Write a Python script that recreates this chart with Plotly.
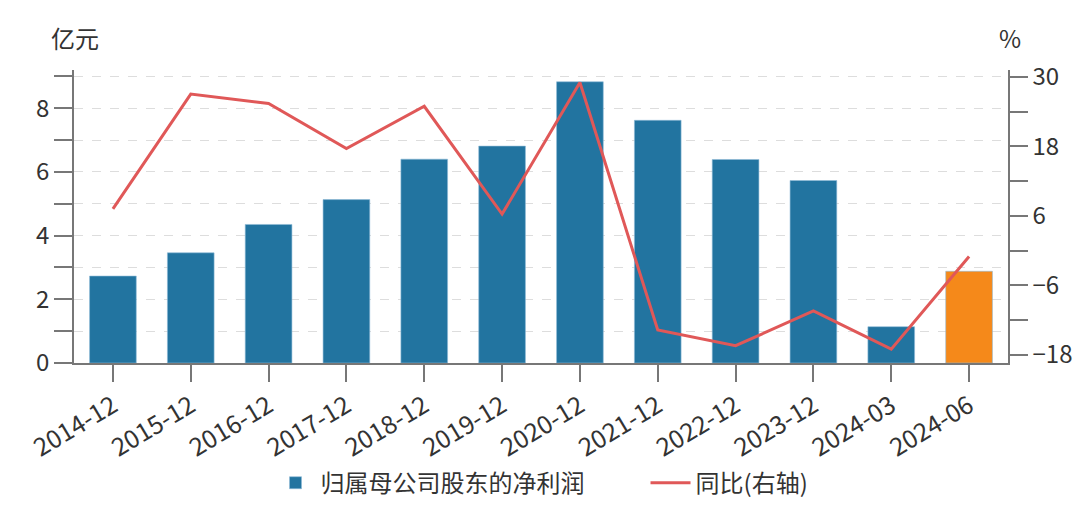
import plotly.graph_objects as go

categories = ["2014-12", "2015-12", "2016-12", "2017-12", "2018-12", "2019-12",
              "2020-12", "2021-12", "2022-12", "2023-12", "2024-03", "2024-06"]
net_profit = [2.73, 3.46, 4.35, 5.13, 6.40, 6.81, 8.83, 7.62, 6.39, 5.73, 1.14, 2.88]
yoy = [7.2, 27.0, 25.4, 17.6, 24.9, 6.3, 29.0, -13.7, -16.4, -10.4, -17.0, -1.0]

bar_colors = ["#2274a0"] * (len(categories) - 1) + ["#f5891a"]

FONT = "Noto Sans CJK SC, Noto Sans, sans-serif"
TXT = "#333333"
AX = "#777777"
FS = 24

fig = go.Figure()
fig.add_trace(go.Bar(
    x=categories, y=net_profit, name="归属母公司股东的净利润",
    marker=dict(color=bar_colors, line=dict(color="#8fbbd6", width=0.6)),
    width=0.6, yaxis="y",
))
fig.add_trace(go.Scatter(
    x=categories, y=yoy, name="同比(右轴)", mode="lines",
    line=dict(color="#e05858", width=3), yaxis="y2",
))

fig.update_layout(
    width=1080, height=506,
    margin=dict(l=74, r=72, t=70, b=143, autoexpand=False),
    plot_bgcolor="white", paper_bgcolor="white",
    font=dict(family=FONT, size=FS, color=TXT),
    showlegend=True,
    legend=dict(orientation="h", x=0.2104, xanchor="left", y=-0.41, yanchor="middle",
                font=dict(size=FS, color=TXT), itemwidth=40, traceorder="normal",
                entrywidth=320, entrywidthmode="pixels"),
    xaxis=dict(
        type="category", automargin=False,
        showline=True, linecolor=AX, linewidth=1.5,
        ticks="outside", ticklen=17, tickcolor=AX, tickwidth=1.5,
        tickangle=-31, tickfont=dict(size=25, color=TXT),
        showgrid=False,
    ),
    yaxis=dict(
        range=[0, 9.2], tick0=0, dtick=2, automargin=False,
        showline=True, linecolor=AX, linewidth=1.5,
        ticks="outside", ticklen=18, tickcolor=AX, tickwidth=1.5,
        tickfont=dict(size=FS, color=TXT),
        showgrid=True, gridcolor="#dddddd", griddash="dash", gridwidth=1,
        minor=dict(dtick=1, ticks="outside", ticklen=18, tickcolor=AX, tickwidth=1.5,
                   showgrid=True, gridcolor="#dddddd", griddash="dash", gridwidth=1),
        zeroline=False,
    ),
    yaxis2=dict(
        overlaying="y", side="right", automargin=False,
        range=[-19.38, 31.16], tick0=-18, dtick=12,
        showline=True, linecolor=AX, linewidth=1.5,
        ticks="outside", ticklen=18, tickcolor=AX, tickwidth=1.5,
        tickfont=dict(size=FS, color=TXT),
        showgrid=False, zeroline=False,
        minor=dict(dtick=6, ticks="outside", ticklen=18, tickcolor=AX, tickwidth=1.5,
                   showgrid=False),
    ),
    annotations=[
        dict(text="亿元", xref="paper", yref="paper", x=0.0, y=1.0, yshift=33, xshift=1,
             xanchor="center", yanchor="middle", showarrow=False,
             font=dict(size=FS, color=TXT)),
        dict(text="%", xref="paper", yref="paper", x=1.0, y=1.0, yshift=33, xshift=2,
             xanchor="center", yanchor="middle", showarrow=False,
             font=dict(size=FS, color=TXT)),
    ],
)

fig.write_html("out.html", config={"displayModeBar": False},
               post_script="document.body.style.margin='0';")
